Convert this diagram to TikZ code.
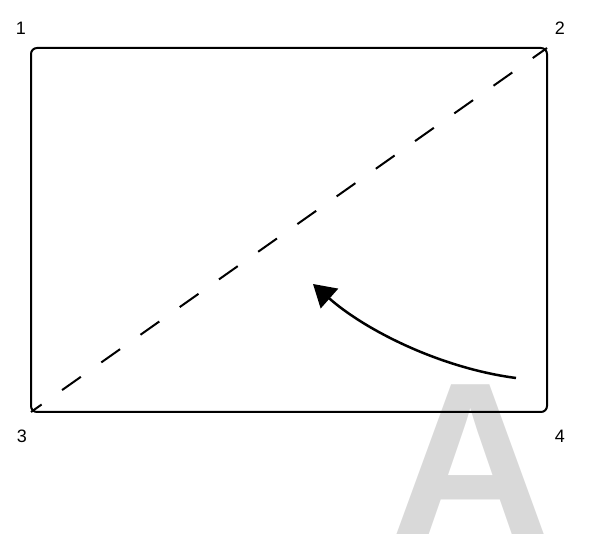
\documentclass[tikz,border=0pt]{standalone}
\usepackage{fontspec}
\setmainfont{Liberation Sans}
\usetikzlibrary{arrows.meta}
\definecolor{bigA}{HTML}{D9D9D9}
\tikzset{
  frame/.style={draw=black, line width=2pt, rounded corners=6pt},
  diag/.style={draw=black, line width=2pt, dash pattern=on 23pt off 25pt, dash phase=10pt},
  curvearrow/.style={draw=black, line width=2.5pt, -{Triangle[length=22pt,width=26pt]}},
  corner/.style={font=\fontsize{18}{18}\selectfont, inner sep=0pt},
  watermark/.style={text=bigA, font=\fontsize{225}{225}\selectfont\bfseries, inner sep=0pt, anchor=base}
}
\begin{document}
\begin{tikzpicture}[x=1pt,y=-1pt]
\useasboundingbox (0,0) rectangle (592,534);
\begin{scope}
\clip (0,0) rectangle (592,534);
\node[watermark] (wm) at (471,539) {A};
\end{scope}
\coordinate (c1) at (31,48);
\coordinate (c2) at (547,48);
\coordinate (c3) at (31,412);
\coordinate (c4) at (547,412);
\draw[frame] (c1) rectangle (c4);
\draw[diag] (c3) -- (c2);
\coordinate (as) at (516,378);
\coordinate (ae) at (313,284);
\draw[curvearrow] (as) .. controls (440,368) and (365,330) .. (ae);
\node[corner] (l1) at (21,28) {1};
\node[corner] (l2) at (560,28) {2};
\node[corner] (l3) at (22,436) {3};
\node[corner] (l4) at (560,436) {4};
\end{tikzpicture}
\end{document}
